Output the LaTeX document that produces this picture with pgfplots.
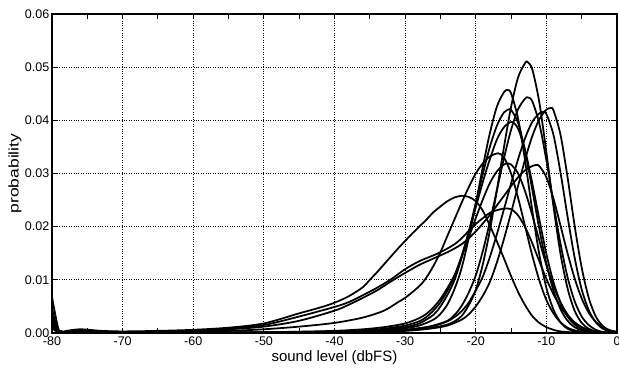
\documentclass[border=0pt]{standalone}
\usepackage{fontspec}
\setmainfont{Liberation Sans}
\usepackage{pgfplots}
\pgfplotsset{compat=1.18}
\begin{document}
\begin{tikzpicture}
\useasboundingbox (-52pt,-36pt) rectangle (567pt,333pt);
\begin{axis}[
  at={(0pt,0pt)}, anchor=south west,
  scale only axis, width=565pt, height=319pt,
  xmin=-80, xmax=0, ymin=0, ymax=0.06,
  xtick={-80,-70,-60,-50,-40,-30,-20,-10,0},
  minor xtick={-75,-65,-55,-45,-35,-25,-15,-5},
  ytick={0,0.01,0.02,0.03,0.04,0.05,0.06},
  scaled y ticks=false,
  yticklabel style={inner xsep=2.5pt, /pgf/number format/fixed, /pgf/number format/fixed zerofill, /pgf/number format/precision=2},
  /pgf/number format/assume math mode=true,
  grid=major,
  major grid style={black, dotted, line width=0.8pt},
  tick align=inside,
  major tick length=5pt, minor tick length=5pt,
  every tick/.style={black, line width=1.1pt},
  axis line style={black, line width=1.3pt},
  ticklabel style={font=\fontsize{12.5}{14}\selectfont},
  xlabel={sound level (dbFS)}, ylabel={\scalebox{1.25}[1]{probability}},
  label style={font=\fontsize{15}{17}\selectfont},
  xlabel style={at={(axis description cs:0.5,-0.078)}, anchor=center},
  ylabel style={at={(axis description cs:-0.0655,0.5)}, anchor=center, font=\fontsize{14}{16}\selectfont},
  cycle list={{black,solid}},
  no markers,
  every axis plot/.append style={line width=1.75pt, line join=round, smooth},
]
% C1
\addplot coordinates {(-80,0.003) (-79,0.0002) (-76,0.0001) (-70,0.00005) (-60,0.00003) (-50,0.00005) (-40,0.00012) (-36,0.0002) (-33,0.0003) (-30,0.0005) (-28,0.0007) (-26,0.0010) (-24,0.0016) (-23,0.0022) (-22,0.0032) (-21,0.0052) (-20,0.0081) (-19,0.0129) (-18,0.0193) (-17,0.0269) (-16,0.0350) (-15,0.0425) (-14,0.0481) (-13,0.0508) (-12.7,0.0510) (-12,0.0496) (-11,0.0434) (-10,0.0340) (-9,0.0239) (-8,0.0149) (-7,0.0084) (-6,0.0042) (-5,0.0019) (-4,0.0008) (-3,0.0003) (-2,0.0001) (0,0)};
% C2
\addplot coordinates {(-80,0.002) (-79,0.0003) (-76,0.0001) (-70,0.00003) (-60,0.00004) (-50,0.00008) (-40,0.0002) (-36,0.0003) (-33,0.0005) (-30,0.0009) (-28,0.0014) (-26,0.0025) (-25,0.0036) (-24,0.0054) (-23,0.0083) (-22,0.0122) (-21,0.0178) (-20,0.0243) (-19,0.0312) (-18,0.0376) (-17,0.0426) (-16,0.0453) (-15.5,0.0457) (-15,0.0451) (-14,0.0403) (-13,0.0323) (-12,0.0231) (-11,0.0148) (-10,0.0085) (-9,0.0044) (-8,0.0020) (-7,0.0008) (-6,0.0003) (-5,0.0001) (-3,0.00003) (0,0)};
% C3
\addplot coordinates {(-80,0.0015) (-79,0.0002) (-76,0.0001) (-70,0.00003) (-60,0.00003) (-50,0.00006) (-40,0.00015) (-36,0.00025) (-33,0.0004) (-30,0.0006) (-28,0.0009) (-26,0.0014) (-24,0.0023) (-23,0.0034) (-22,0.0051) (-21,0.0076) (-20,0.0108) (-19,0.0154) (-18,0.0209) (-17,0.0269) (-16,0.0329) (-15,0.0382) (-14,0.0421) (-13,0.0441) (-12.6,0.0443) (-12,0.0436) (-11,0.0394) (-10,0.0325) (-9,0.0244) (-8,0.0168) (-7,0.0105) (-6,0.0060) (-5,0.0031) (-4,0.0015) (-3,0.0006) (-2,0.0002) (-1,0.0001) (0,0)};
% C4
\addplot coordinates {(-80,0.004) (-79,0.0003) (-76,0.0001) (-70,0.00003) (-60,0.00004) (-50,0.0001) (-40,0.00025) (-36,0.0004) (-33,0.0006) (-30,0.0011) (-28,0.0018) (-26,0.0034) (-25,0.0050) (-24,0.0072) (-23,0.0100) (-22,0.0141) (-21,0.0190) (-20,0.0244) (-19,0.0299) (-18,0.0350) (-17,0.0390) (-16,0.0415) (-15.2,0.0421) (-15,0.0420) (-14,0.0395) (-13,0.0342) (-12,0.0270) (-11,0.0196) (-10,0.0131) (-9,0.0080) (-8,0.0045) (-7,0.0023) (-6,0.0011) (-5,0.0005) (-4,0.0002) (-2,0.00005) (0,0)};
% C5
\addplot coordinates {(-80,0.001) (-79,0.0001) (-76,0.00005) (-70,0.00002) (-60,0.00002) (-50,0.00004) (-40,0.0001) (-36,0.00015) (-33,0.00025) (-30,0.0004) (-28,0.0006) (-26,0.0009) (-24,0.0014) (-22,0.0025) (-21,0.0035) (-20,0.0050) (-19,0.0070) (-18,0.0096) (-17,0.0133) (-16,0.0177) (-15,0.0226) (-14,0.0277) (-13,0.0327) (-12,0.0370) (-11,0.0402) (-10,0.0420) (-9.4,0.0423) (-9,0.0419) (-8,0.0373) (-7,0.0293) (-6,0.0202) (-5,0.0123) (-4,0.0066) (-3,0.0031) (-2,0.0013) (-1,0.0005) (0,0.0002)};
% C6
\addplot coordinates {(-80,0.002) (-79,0.0002) (-76,0.0001) (-70,0.00002) (-60,0.00003) (-50,0.00006) (-40,0.00015) (-36,0.00025) (-33,0.0004) (-30,0.0006) (-28,0.0009) (-26,0.0013) (-24,0.0022) (-23,0.0030) (-22,0.0041) (-21,0.0057) (-20,0.0080) (-19,0.0106) (-18,0.0143) (-17,0.0186) (-16,0.0233) (-15,0.0281) (-14,0.0327) (-13,0.0367) (-12,0.0397) (-11,0.0413) (-10.4,0.0416) (-10,0.0412) (-9,0.0373) (-8,0.0302) (-7,0.0219) (-6,0.0142) (-5,0.0082) (-4,0.0043) (-3,0.0020) (-2,0.0008) (-1,0.0003) (0,0.0001)};
% C7
\addplot coordinates {(-80,0.003) (-79,0.0003) (-76,0.0001) (-70,0.00003) (-60,0.00005) (-50,0.00012) (-45,0.0002) (-40,0.0003) (-36,0.0005) (-33,0.0008) (-30,0.0014) (-28,0.0022) (-27,0.0030) (-26,0.0042) (-25,0.0058) (-24,0.0080) (-23,0.0107) (-22,0.0145) (-21,0.0189) (-20,0.0236) (-19,0.0284) (-18,0.0327) (-17,0.0364) (-16,0.0387) (-14.9,0.0397) (-14,0.0384) (-13,0.0343) (-12,0.0282) (-11,0.0214) (-10,0.0149) (-9,0.0096) (-8,0.0057) (-7,0.0031) (-6,0.0016) (-5,0.0007) (-4,0.0003) (-2,0.00005) (0,0)};
% C8
\addplot coordinates {(-80,0.005) (-79,0.0005) (-76,0.0002) (-70,0.0001) (-60,0.0003) (-55,0.0004) (-50,0.0007) (-45,0.0012) (-40,0.0019) (-36,0.0029) (-33,0.0042) (-31,0.0058) (-30,0.0066) (-28,0.0088) (-27,0.0104) (-26,0.0126) (-25,0.0152) (-24,0.0183) (-23,0.0214) (-22,0.0245) (-21,0.0274) (-20,0.0300) (-19,0.0319) (-18,0.0332) (-16.8,0.0338) (-16,0.0330) (-15,0.0300) (-14,0.0254) (-13,0.0200) (-12,0.0146) (-11,0.0099) (-10,0.0062) (-9,0.0037) (-8,0.0020) (-7,0.0010) (-6,0.0005) (-4,0.0001) (0,0)};
% C9
\addplot coordinates {(-80,0.0025) (-79,0.0003) (-76,0.0001) (-70,0.00003) (-60,0.00006) (-50,0.00015) (-45,0.00025) (-40,0.0004) (-36,0.0007) (-33,0.0011) (-30,0.0018) (-28,0.0028) (-27,0.0036) (-26,0.0048) (-25,0.0064) (-24,0.0085) (-23,0.0109) (-22,0.0143) (-21,0.0179) (-20,0.0216) (-19,0.0251) (-18,0.0282) (-17,0.0304) (-16,0.0317) (-15.4,0.0319) (-15,0.0317) (-14,0.0300) (-13,0.0266) (-12,0.0222) (-11,0.0174) (-10,0.0128) (-9,0.0089) (-8,0.0058) (-7,0.0035) (-6,0.0020) (-5,0.0011) (-4,0.0005) (-3,0.0002) (-1,0.00005) (0,0)};
% C10
\addplot coordinates {(-80,0.004) (-79,0.0004) (-76,0.0002) (-70,0.00015) (-65,0.0002) (-60,0.0004) (-55,0.0007) (-50,0.0012) (-45,0.0023) (-40,0.0042) (-38,0.0053) (-36,0.0066) (-34,0.0080) (-32,0.0097) (-30,0.0113) (-28,0.0128) (-26,0.0140) (-25,0.0146) (-24,0.0152) (-23,0.0159) (-22,0.0167) (-21,0.0178) (-20,0.0191) (-19,0.0206) (-18,0.0222) (-17,0.0240) (-16,0.0258) (-15,0.0276) (-14,0.0293) (-13,0.0306) (-12,0.0314) (-11.4,0.0316) (-11,0.0314) (-10,0.0293) (-9,0.0253) (-8,0.0202) (-7,0.0150) (-6,0.0103) (-5,0.0065) (-4,0.0038) (-3,0.0021) (-2,0.0010) (-1,0.0005) (0,0.0002)};
% C11
\addplot coordinates {(-80,0.0068) (-79,0.0004) (-78,0.0004) (-76,0.0007) (-73,0.0004) (-70,0.0003) (-65,0.0004) (-60,0.0006) (-55,0.0010) (-50,0.0018) (-45,0.0037) (-42,0.0048) (-40,0.0057) (-38,0.0069) (-36,0.0086) (-35,0.0100) (-34,0.0114) (-33,0.0129) (-32,0.0144) (-31,0.0159) (-30,0.0173) (-29,0.0187) (-28,0.0200) (-27,0.0213) (-26,0.0227) (-25,0.0238) (-24,0.0248) (-23,0.0255) (-22,0.0258) (-21,0.0256) (-20,0.0248) (-19,0.0230) (-18,0.0202) (-17,0.0172) (-16,0.0140) (-15,0.0107) (-14,0.0077) (-13,0.0052) (-12,0.0032) (-11,0.0019) (-10,0.0011) (-9,0.0006) (-8,0.0003) (-6,0.0001) (-3,0.00003) (0,0)};
% C12
\addplot coordinates {(-80,0.003) (-79,0.0004) (-76,0.0005) (-70,0.0002) (-65,0.0003) (-60,0.0004) (-55,0.0008) (-50,0.0015) (-45,0.0031) (-40,0.0049) (-38,0.0058) (-36,0.0071) (-34,0.0085) (-32,0.0101) (-30,0.0120) (-28,0.0135) (-26,0.0146) (-25,0.0152) (-24,0.0159) (-23,0.0167) (-22,0.0178) (-21,0.0192) (-20,0.0205) (-19,0.0216) (-18,0.0226) (-17,0.0231) (-16,0.0234) (-15,0.0233) (-14,0.0221) (-13,0.0199) (-12,0.0169) (-11,0.0135) (-10,0.0102) (-9,0.0073) (-8,0.0050) (-7,0.0032) (-6,0.0019) (-5,0.0011) (-4,0.0006) (-2,0.0001) (0,0)};
\end{axis}
\end{tikzpicture}
\end{document}
